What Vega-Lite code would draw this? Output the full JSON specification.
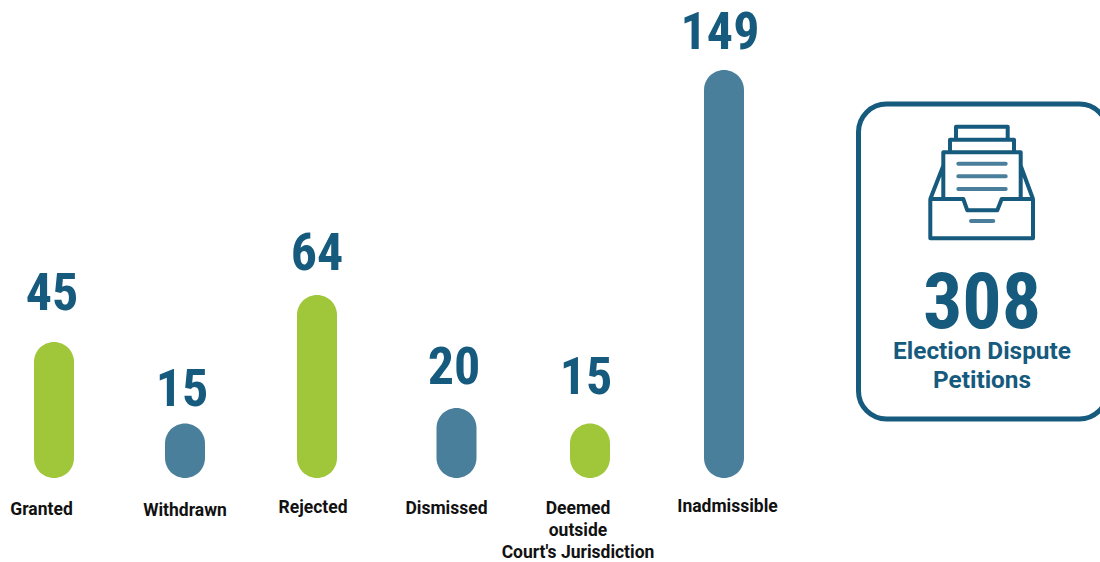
{
  "$schema": "https://vega.github.io/schema/vega-lite/v6.json",
  "width": 1100,
  "height": 562,
  "padding": 0,
  "autosize": {"type": "none"},
  "background": "#ffffff",
  "config": {"view": {"stroke": null}},
  "datasets": {
    "outcomes": [
      {"order": 1, "outcome": "Granted", "label": "Granted", "petitions": 45, "kind": "upheld"},
      {"order": 2, "outcome": "Withdrawn", "label": "Withdrawn", "petitions": 15, "kind": "closed"},
      {"order": 3, "outcome": "Rejected", "label": "Rejected", "petitions": 64, "kind": "upheld"},
      {"order": 4, "outcome": "Dismissed", "label": "Dismissed", "petitions": 20, "kind": "closed"},
      {"order": 5, "outcome": "Deemed outside Court's Jurisdiction", "label": "Deemed\noutside\nCourt's Jurisdiction", "petitions": 15, "kind": "upheld"},
      {"order": 6, "outcome": "Inadmissible", "label": "Inadmissible", "petitions": 149, "kind": "closed"}
    ],
    "summary": [
      {"total": 308, "caption": "Election Dispute\nPetitions"}
    ]
  },
  "layer": [
    {
      "data": {"name": "outcomes"},
      "mark": {"type": "bar", "width": 40, "cornerRadius": 20, "clip": false},
      "encoding": {
        "x": {"field": "order", "type": "quantitative", "axis": null,
          "scale": {"domain": [1, 2, 3, 4, 5, 6], "range": [54, 185, 317, 456.5, 590, 724], "nice": false, "zero": false, "padding": 0}},
        "y": {"field": "petitions", "type": "quantitative", "axis": null,
          "scale": {"domain": [0, 15, 20, 45, 64, 149], "range": [478, 423.5, 408, 342, 295, 70], "nice": false, "padding": 0}},
        "y2": {"datum": 0},
        "color": {"field": "kind", "type": "nominal", "legend": null,
          "scale": {"domain": ["upheld", "closed"], "range": ["#A0C63A", "#4A7F9C"]}}
      }
    },
    {
      "data": {"name": "outcomes"},
      "mark": {"type": "text", "font": "Roboto Condensed, Roboto", "fontWeight": "bold", "fontSize": 52, "align": "center", "baseline": "alphabetic", "color": "#165A7E"},
      "encoding": {
        "x": {"field": "order", "type": "quantitative", "axis": null,
          "scale": {"domain": [1, 2, 3, 4, 5, 6], "range": [52, 182, 317, 454, 586, 720], "nice": false, "zero": false}},
        "y": {"field": "order", "type": "quantitative", "axis": null,
          "scale": {"domain": [1, 2, 3, 4, 5, 6], "range": [310, 406, 270, 384, 394, 49], "nice": false, "zero": false}},
        "text": {"field": "petitions", "type": "quantitative"}
      }
    },
    {
      "data": {"name": "outcomes"},
      "mark": {"type": "text", "font": "Roboto", "fontWeight": "bold", "fontSize": 17.5, "align": "center", "baseline": "alphabetic", "color": "#111111", "lineBreak": "\n", "lineHeight": 22},
      "encoding": {
        "x": {"field": "order", "type": "quantitative", "axis": null,
          "scale": {"domain": [1, 2, 3, 4, 5, 6], "range": [41.5, 185, 313, 446.5, 578, 727.5], "nice": false, "zero": false}},
        "y": {"field": "order", "type": "quantitative", "axis": null,
          "scale": {"domain": [1, 2, 3, 4, 5, 6], "range": [515, 516, 513, 514, 514, 512], "nice": false, "zero": false}},
        "text": {"field": "label", "type": "nominal"}
      }
    },
    {
      "data": {"name": "summary"},
      "mark": {"type": "point", "filled": false, "size": 4, "stroke": "#165A7E", "strokeWidth": 5, "opacity": 1,
        "shape": "M-96.5 -157.5 H96.5 A28 28 0 0 1 124.5 -129.5 V129.5 A28 28 0 0 1 96.5 157.5 H-96.5 A28 28 0 0 1 -124.5 129.5 V-129.5 A28 28 0 0 1 -96.5 -157.5 Z"},
      "encoding": {
        "x": {"field": "total", "type": "quantitative", "axis": null, "scale": {"domain": [0, 308], "range": [0, 983], "nice": false}},
        "y": {"field": "total", "type": "quantitative", "axis": null, "scale": {"domain": [0, 308], "range": [0, 261.5], "nice": false}}
      }
    },
    {
      "data": {"name": "summary"},
      "mark": {"type": "point", "filled": false, "size": 4, "stroke": "#165A7E", "strokeWidth": 4, "opacity": 1, "strokeJoin": "round",
        "shape": "M-26 -42.3 V-55.3 H25.7 V-42.3 M-32 -29.7 V-42.3 H32 V-29.7 M-38.7 17 V-29.7 H38.7 V17 M-51.7 17 H-18.7 L-14.7 28.3 H15.3 L19.7 17 H51 V56.3 H-51.7 Z M-51.7 17 L-38.7 -16.3 M51 17 L38.7 -16.3"},
      "encoding": {
        "x": {"field": "total", "type": "quantitative", "axis": null, "scale": {"domain": [0, 308], "range": [0, 982], "nice": false}},
        "y": {"field": "total", "type": "quantitative", "axis": null, "scale": {"domain": [0, 308], "range": [0, 182], "nice": false}}
      }
    },
    {
      "data": {"name": "summary"},
      "mark": {"type": "point", "filled": false, "size": 4, "stroke": "#4A7F9C", "strokeWidth": 4, "opacity": 1, "strokeCap": "round",
        "shape": "M-23.7 -18.3 H23.7 M-23.7 -5.7 H23.7 M-23.7 7 H23.7 M-11 39 H11.3"},
      "encoding": {
        "x": {"field": "total", "type": "quantitative", "axis": null, "scale": {"domain": [0, 308], "range": [0, 982], "nice": false}},
        "y": {"field": "total", "type": "quantitative", "axis": null, "scale": {"domain": [0, 308], "range": [0, 182], "nice": false}}
      }
    },
    {
      "data": {"name": "summary"},
      "mark": {"type": "text", "font": "Roboto Condensed, Roboto", "fontWeight": "bold", "fontSize": 78, "align": "center", "baseline": "alphabetic", "color": "#165A7E"},
      "encoding": {
        "x": {"field": "total", "type": "quantitative", "axis": null, "scale": {"domain": [0, 308], "range": [0, 982], "nice": false}},
        "y": {"field": "total", "type": "quantitative", "axis": null, "scale": {"domain": [0, 308], "range": [0, 328], "nice": false}},
        "text": {"field": "total", "type": "quantitative"}
      }
    },
    {
      "data": {"name": "summary"},
      "mark": {"type": "text", "font": "Roboto", "fontWeight": "bold", "fontSize": 24.4, "align": "center", "baseline": "alphabetic", "color": "#165A7E", "lineBreak": "\n", "lineHeight": 29},
      "encoding": {
        "x": {"field": "total", "type": "quantitative", "axis": null, "scale": {"domain": [0, 308], "range": [0, 982], "nice": false}},
        "y": {"field": "total", "type": "quantitative", "axis": null, "scale": {"domain": [0, 308], "range": [0, 359], "nice": false}},
        "text": {"field": "caption", "type": "nominal"}
      }
    }
  ],
  "resolve": {"scale": {"x": "independent", "y": "independent", "color": "independent"}}
}
